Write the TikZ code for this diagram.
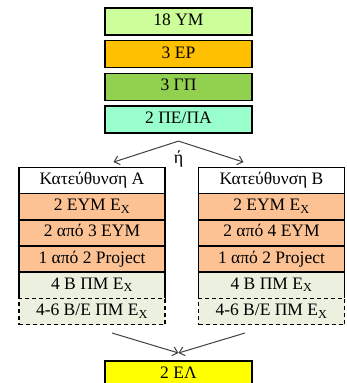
\documentclass[tikz,border=0pt]{standalone}
\usepackage{fontspec}
\setmainfont{Liberation Serif}
\usepackage{xcolor}
\usetikzlibrary{arrows.meta, positioning, calc}
\definecolor{ymColor}{RGB}{204, 255, 153}
\definecolor{epColor}{RGB}{255, 192, 0}
\definecolor{gpColor}{RGB}{146, 208, 80}
\definecolor{peColor}{RGB}{153, 255, 204}
\definecolor{eymColor}{RGB}{252, 194, 148}
\definecolor{pmColor}{RGB}{235, 241, 222}
\definecolor{elColor}{RGB}{255, 255, 0}

\begin{document}
\begin{tikzpicture}[
    x=1pt, y=1pt,
    node distance=5.7pt,
    box/.style={rectangle, draw, line width=1.5pt, outer sep=0pt, inner sep=0pt, minimum width=147pt, minimum height=27pt, font=\fontsize{17.5}{20}\selectfont, text height=12pt, text depth=4pt},
    row/.style={box, minimum width=146pt, minimum height=26.2pt},
    optrow/.style={row, dash pattern=on 4pt off 3pt},
    arrow/.style={-{Straight Barb[length=5pt, width=9pt]}, line width=1pt, draw=black!75}
]
    \useasboundingbox (0,0) rectangle (347,383);
    \clip (0,0) rectangle (347,383);

    % Common courses
    \node[box, fill=ymColor] (ym) at (178.5,361.5) {18 ΥΜ};
    \node[box, fill=epColor, below=of ym] (ep) {3 ΕΡ};
    \node[box, fill=gpColor, below=of ep] (gp) {3 ΓΠ};
    \node[box, fill=peColor, below=of gp] (pe) {2 ΠΕ/ΠΑ};

    % Choice
    \coordinate[below=8pt of pe] (split);
    \node[font=\fontsize{18}{20}\selectfont, below=6pt of split] (or) {ή};
    \coordinate (inA) at ($(split)+(-65,-21)$);
    \coordinate (inB) at ($(split)+(65,-21)$);

    % Direction A
    \node[row, fill=white] (hdrA) at (92,202.5) {Κατεύθυνση Α};
    \node[row, fill=eymColor, below=0pt of hdrA] (eymA) {2 ΕΥΜ Ε\textsubscript{X}};
    \node[row, fill=eymColor, below=0pt of eymA] (selA) {2 από 3 ΕΥΜ};
    \node[row, fill=eymColor, below=0pt of selA] (prjA) {1 από 2 Project};
    \node[row, fill=pmColor, below=0pt of prjA] (pmA) {4 Β ΠΜ Ε\textsubscript{X}};
    \node[optrow, fill=pmColor, below=0pt of pmA] (optA) {4-6 Β/Ε ΠΜ Ε\textsubscript{X}};

    % Direction B
    \node[row, fill=white] (hdrB) at (271.5,202.5) {Κατεύθυνση Β};
    \node[row, fill=eymColor, below=0pt of hdrB] (eymB) {2 ΕΥΜ Ε\textsubscript{X}};
    \node[row, fill=eymColor, below=0pt of eymB] (selB) {2 από 4 ΕΥΜ};
    \node[row, fill=eymColor, below=0pt of selB] (prjB) {1 από 2 Project};
    \node[row, fill=pmColor, below=0pt of prjB] (pmB) {4 Β ΠΜ Ε\textsubscript{X}};
    \node[optrow, fill=pmColor, below=0pt of pmB] (optB) {4-6 Β/Ε ΠΜ Ε\textsubscript{X}};

    % Final
    \node[box, fill=elColor] (el) at (178.5,8.5) {2 ΕΛ};
    \coordinate[above=8pt of el] (join);
    \coordinate (outA) at ($(join)+(-66.5,20)$);
    \coordinate (outB) at ($(join)+(66.5,20)$);

    % Arrows
    \draw[arrow] (split) -- (inA);
    \draw[arrow] (split) -- (inB);
    \draw[arrow] (outA) -- (join);
    \draw[arrow] (outB) -- (join);

\end{tikzpicture}
\end{document}
